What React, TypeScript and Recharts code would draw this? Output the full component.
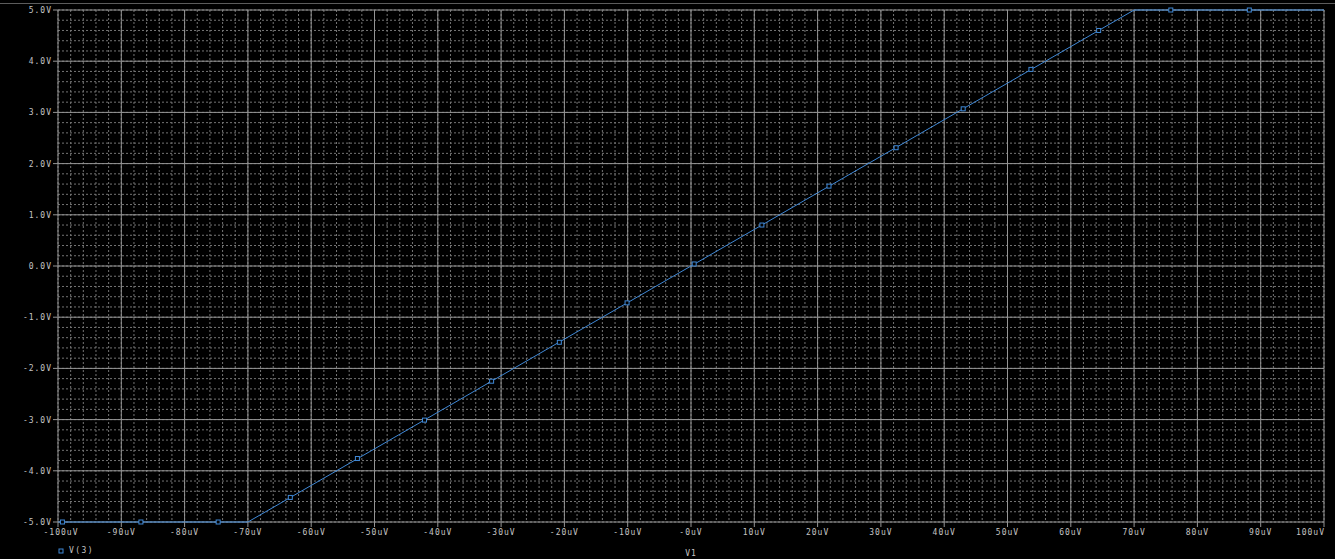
import {
  ComposedChart,
  Line,
  Scatter,
  XAxis,
  YAxis,
  CartesianGrid,
  Legend,
  Label,
} from 'recharts';

// sweep of V1 (uV) against V(3) (V): clipped rails with a linear region between
const sweepV1 = [-100, -70, 70, 100];
const sweepV3 = [-5, -5, 5, 5];

// trace markers as placed along the curve
const markerV1 = [
  -99.3, -86.9, -74.7, -63.3, -52.7, -42.1, -31.5, -20.8, -10.1, 0.5,
  11.2, 21.8, 32.4, 43.0, 53.7, 64.4, 75.8, 88.2,
];
const markerV3 = [
  -5, -5, -5, -4.52, -3.76, -3.01, -2.25, -1.49, -0.72, 0.04,
  0.8, 1.56, 2.31, 3.07, 3.84, 4.6, 5, 5,
];

const xTicks = [-100, -90, -80, -70, -60, -50, -40, -30, -20, -10, 0, 10, 20, 30, 40, 50, 60, 70, 80, 90, 100];
const xTickLabels = [
  '-100uV', '-90uV', '-80uV', '-70uV', '-60uV', '-50uV', '-40uV', '-30uV', '-20uV', '-10uV', '-0uV',
  '10uV', '20uV', '30uV', '40uV', '50uV', '60uV', '70uV', '80uV', '90uV', '100uV',
];
const yTicks = [5, 4, 3, 2, 1, 0, -1, -2, -3, -4, -5];
const yTickLabels = ['5.0V', '4.0V', '3.0V', '2.0V', '1.0V', '0.0V', '-1.0V', '-2.0V', '-3.0V', '-4.0V', '-5.0V'];

// five minor divisions per major division
const minorSteps = (from: number, to: number, step: number) => {
  const out: number[] = [];
  for (let v = from; v <= to + 1e-9; v += step) out.push(Math.round(v * 1000) / 1000);
  return out;
};
const xMinor = minorSteps(-100, 100, 2);
const yMinor = minorSteps(-5, 5, 0.2);

const sweepData = sweepV1.map((v1, i) => ({ v1, v3: sweepV3[i] }));
const markerData = markerV1.map((v1, i) => ({ v1, v3: markerV3[i] }));

const TRACE = '#3f88d6';
const TEXT = '#c4c4c4';
const MAJOR = '#949494';
const MINOR = '#747474';
const FONT = '"DejaVu Sans Mono", monospace';

const XTick = (props: any) => {
  const { x, y, payload } = props;
  const i = xTicks.indexOf(payload.value);
  const last = i === xTicks.length - 1;
  const first = i === 0;
  return (
    <text
      x={last ? x + 1 : first ? x + 3 : x}
      y={y + 6}
      textAnchor={last ? 'end' : 'middle'}
      fill={TEXT}
      fontSize={8}
      letterSpacing={1}
      fontFamily={FONT}
    >
      {xTickLabels[i]}
    </text>
  );
};

const YTick = (props: any) => {
  const { x, y, payload } = props;
  const i = yTicks.indexOf(payload.value);
  return (
    <text x={x} y={y + 3} textAnchor="end" fill={TEXT} fontSize={8} letterSpacing={1} fontFamily={FONT}>
      {yTickLabels[i]}
    </text>
  );
};

const MarkerShape = (props: any) => {
  const { cx, cy } = props;
  return <rect x={cx - 2} y={cy - 2} width={4} height={4} fill="#000" stroke={TRACE} strokeWidth={1} />;
};

const LegendBox = () => (
  <div style={{ display: 'flex', alignItems: 'center', fontFamily: FONT, fontSize: 8, letterSpacing: 1.4, color: TEXT }}>
    <svg width={6} height={6} style={{ marginRight: 5 }}>
      <rect x={1} y={1} width={4} height={4} fill="none" stroke={TRACE} strokeWidth={1} />
    </svg>
    <span>V(3)</span>
  </div>
);

export default function App() {
  return (
    <div style={{ width: 1335, height: 559, background: '#000', position: 'relative', overflow: 'hidden' }}>
      <style>{'body{margin:0;background:#000}'}</style>
      <div style={{ position: 'absolute', left: 0, top: 3, width: 1335, height: 1, background: '#5c5c5c' }} />
      <ComposedChart width={1335} height={559} margin={{ top: 10, right: 11, bottom: 0, left: 0 }}>
        <CartesianGrid
          stroke={MINOR}
          strokeDasharray="2 2"
          verticalValues={xMinor}
          horizontalValues={yMinor}
        />
        <CartesianGrid stroke={MAJOR} verticalValues={xTicks} horizontalValues={yTicks} />
        <XAxis
          type="number"
          dataKey="v1"
          domain={[-100, 100]}
          ticks={xTicks}
          interval={0}
          height={37}
          axisLine={false}
          tickLine={{ stroke: MAJOR }}
          tickSize={5}
          tickMargin={2}
          tick={<XTick />}
        >
          <Label value="V1" position="insideBottom" offset={3} fill={TEXT} fontSize={8} fontFamily={FONT} letterSpacing={1} />
        </XAxis>
        <YAxis
          type="number"
          dataKey="v3"
          domain={[-5, 5]}
          ticks={yTicks}
          interval={0}
          width={58}
          axisLine={false}
          tickLine={{ stroke: MAJOR }}
          tickSize={5}
          tickMargin={1}
          tick={<YTick />}
        />
        <Line
          data={sweepData}
          dataKey="v3"
          type="linear"
          stroke={TRACE}
          strokeWidth={1}
          dot={false}
          activeDot={false}
          isAnimationActive={false}
        />
        <Scatter data={markerData} dataKey="v3" shape={<MarkerShape />} isAnimationActive={false} />
        <Legend
          layout="horizontal"
          verticalAlign="middle"
          align="center"
          content={<LegendBox />}
          wrapperStyle={{ position: 'absolute', left: 58, top: 546, width: 60, height: 12 }}
        />
      </ComposedChart>
    </div>
  );
}
